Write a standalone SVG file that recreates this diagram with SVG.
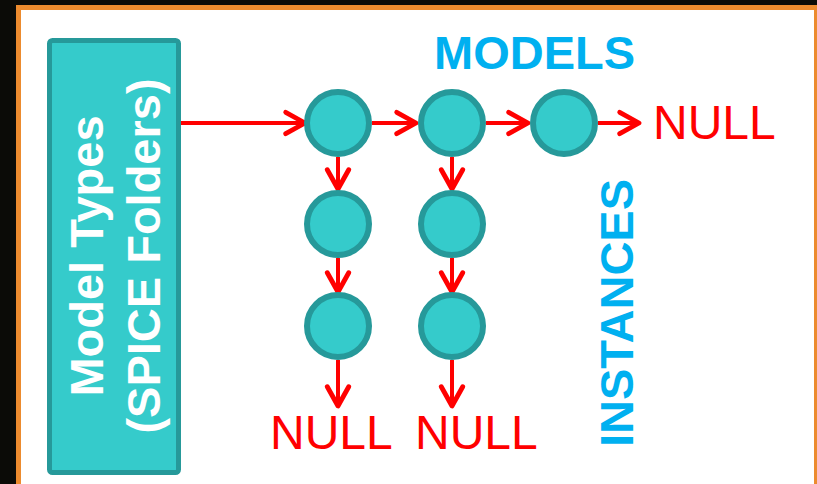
<svg xmlns="http://www.w3.org/2000/svg" width="817" height="484" viewBox="0 0 817 484">
  <style>
    .node { fill: #35cbcb; stroke: #26999a; stroke-width: 6; }
    .link { fill: none; stroke: #ff0000; stroke-width: 4; marker-end: url(#arr); }
    .boxlabel { font-family: "Liberation Sans", Arial, sans-serif; font-weight: bold; font-size: 47px; fill: #ffffff; text-anchor: middle; }
    .title { font-family: "Liberation Sans", Arial, sans-serif; font-weight: bold; font-size: 47px; fill: #00b0f0; }
    .null { font-family: "Liberation Sans", Arial, sans-serif; font-size: 48px; fill: #ff0000; }
  </style>
  <defs>
    <marker id="arr" markerUnits="userSpaceOnUse" markerWidth="30" markerHeight="30" viewBox="-22 -14 26 28" refX="0" refY="0" orient="auto">
      <path d="M-18,-10 L0,0 L-18,10" fill="none" stroke="#ff0000" stroke-width="4.5" stroke-linecap="round" stroke-linejoin="round"/>
    </marker>
  </defs>

  <!-- dark backdrop and orange-framed panel -->
  <rect x="0" y="0" width="817" height="484" fill="#0b0b07"/>
  <rect x="16" y="5" width="815" height="490" fill="#ec8b2e"/>
  <rect x="21" y="10" width="793" height="480" fill="#ffffff"/>

  <!-- model type list head -->
  <g id="model-types">
    <rect x="49.5" y="40.5" width="129" height="432" rx="3" fill="#35cbcb" stroke="#26999a" stroke-width="5"/>
    <text class="boxlabel" transform="translate(103,256) rotate(-90)">Model Types</text>
    <text class="boxlabel" transform="translate(160,256) rotate(-90)">(SPICE Folders)</text>
  </g>

  <!-- axis captions -->
  <g id="models-label"><text class="title" x="434" y="69">MODELS</text></g>
  <g id="instances-label"><text class="title" text-anchor="middle" transform="translate(633,313) rotate(-90)">INSTANCES</text></g>

  <!-- connectors -->
  <g id="connectors">
    <line class="link" x1="181" y1="123" x2="305" y2="123"/>
    <line class="link" x1="372" y1="123" x2="416" y2="123"/>
    <line class="link" x1="486" y1="123" x2="528" y2="123"/>
    <line class="link" x1="598" y1="123" x2="639" y2="123"/>
    <line class="link" x1="338" y1="157" x2="338" y2="189"/>
    <line class="link" x1="338" y1="258" x2="338" y2="292"/>
    <line class="link" x1="338" y1="360" x2="338" y2="406"/>
    <line class="link" x1="452" y1="157" x2="452" y2="189"/>
    <line class="link" x1="452" y1="258" x2="452" y2="292"/>
    <line class="link" x1="452" y1="360" x2="452" y2="406"/>
  </g>

  <!-- model nodes -->
  <g id="model-1"><circle class="node" cx="338" cy="123" r="31"/></g>
  <g id="model-2"><circle class="node" cx="452" cy="123" r="31"/></g>
  <g id="model-3"><circle class="node" cx="564" cy="123" r="31"/></g>

  <!-- instance nodes -->
  <g id="instance-1a"><circle class="node" cx="338" cy="224" r="31"/></g>
  <g id="instance-1b"><circle class="node" cx="338" cy="326" r="31"/></g>
  <g id="instance-2a"><circle class="node" cx="452" cy="224" r="31"/></g>
  <g id="instance-2b"><circle class="node" cx="452" cy="326" r="31"/></g>

  <!-- list terminators -->
  <g id="null-models"><text class="null" x="653" y="139">NULL</text></g>
  <g id="null-col1"><text class="null" x="270" y="449">NULL</text></g>
  <g id="null-col2"><text class="null" x="415" y="449">NULL</text></g>
</svg>
